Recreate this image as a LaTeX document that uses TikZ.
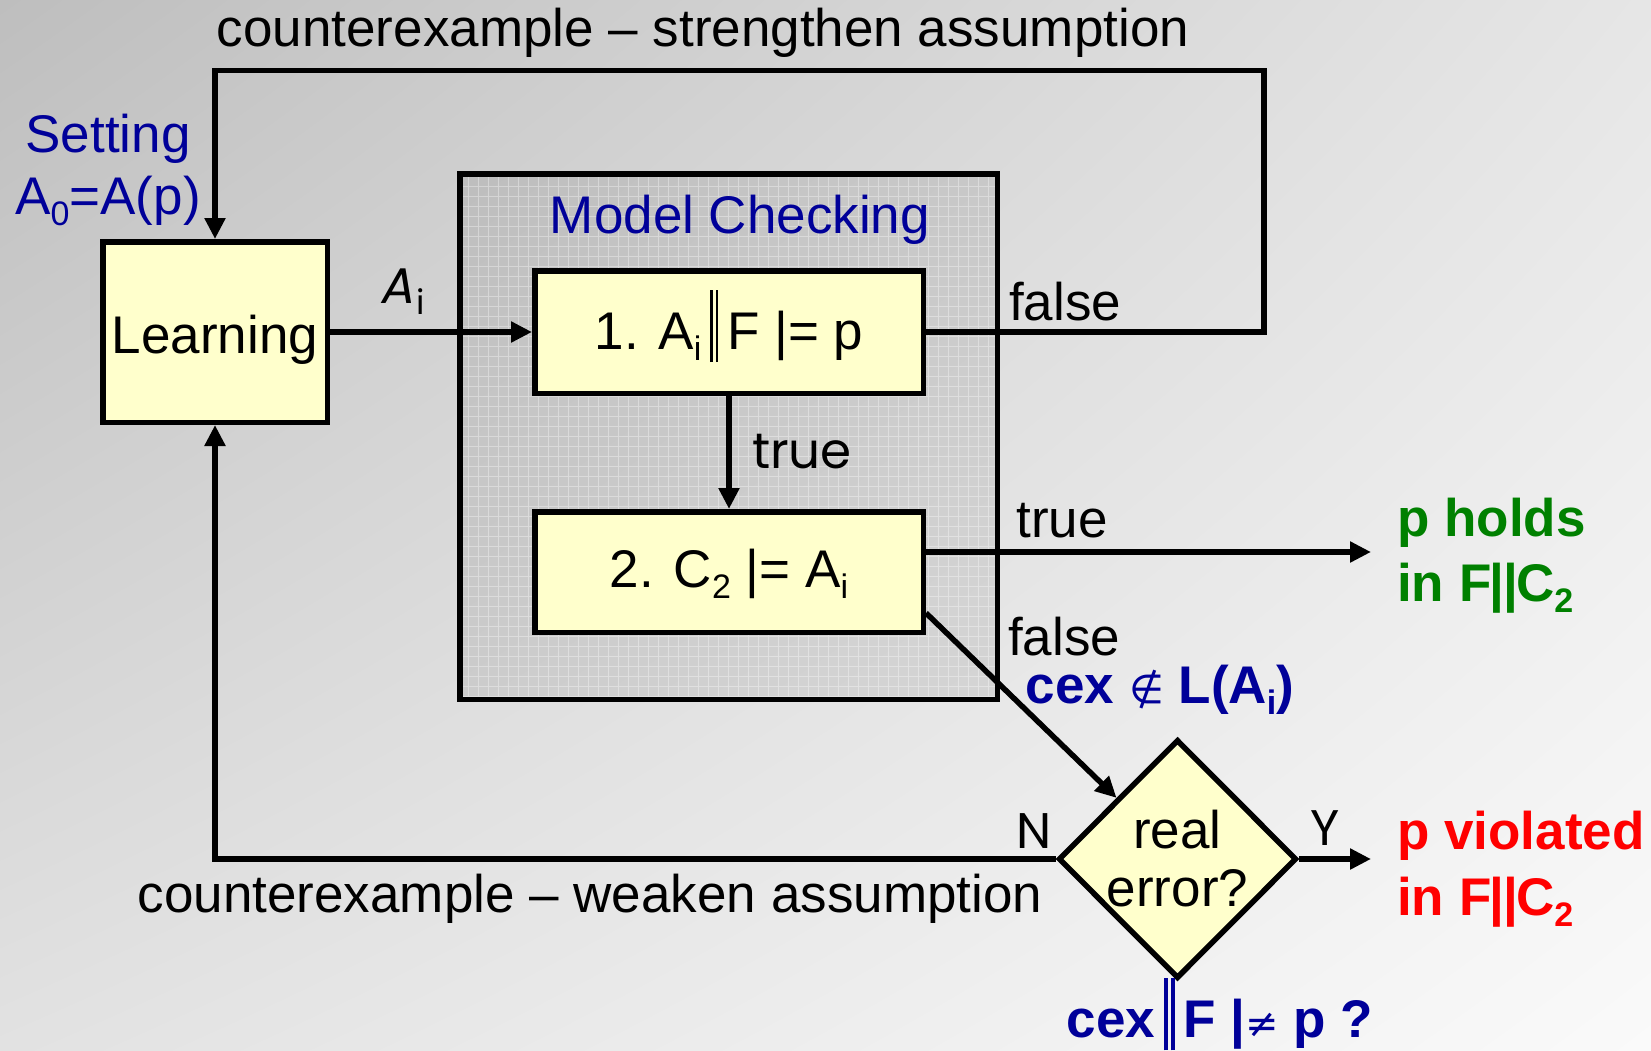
\documentclass[tikz,border=0pt]{standalone}
\usepackage{fontspec}
\setmainfont{Liberation Sans}
\newfontfamily\symfont{DejaVu Sans}
\newfontfamily\handfont{Poppins}
\newfontfamily\handslant[FakeSlant=0.2]{Poppins}
\usetikzlibrary{arrows.meta,shapes.geometric,shadings}

\definecolor{yel}{HTML}{FFFFCC}
\definecolor{dkblue}{RGB}{0,0,153}
\definecolor{okgreen}{RGB}{0,128,0}
\definecolor{errred}{RGB}{255,0,0}
\definecolor{bgtl}{HTML}{BEBEBE}
\definecolor{bgtr}{HTML}{E6E6E6}
\definecolor{bgbl}{HTML}{E2E2E2}
\definecolor{bgbr}{HTML}{FAFAFA}

% text sizes
\newcommand\txt{\fontsize{53pt}{58pt}\selectfont}
\newcommand\lsub[1]{\raisebox{-11pt}{\fontsize{34pt}{34pt}\selectfont #1}}
\newcommand\pbar[1]{\smash{\rule[-13pt]{#1}{72pt}\kern3pt\rule[-13pt]{#1}{72pt}}}
\newcommand\symtxt[1]{{\symfont\mdseries\fontsize{40pt}{40pt}\selectfont #1}}
\newcommand\parl{\kern-2pt|\kern-1pt|\kern-2pt}

\begin{document}
\begin{tikzpicture}[x=1pt,y=-1pt,
  box/.style={draw, line width=5.5pt, fill=yel, inner sep=0pt, font=\txt},
  arr/.style={line width=5.5pt, -{Triangle[length=21pt,width=20pt]}},
  lbl/.style={font=\txt, inner sep=0pt},
  hand/.style={font=\handfont\fontsize{50pt}{54pt}\selectfont, inner sep=0pt},
  note/.style={font=\txt\bfseries, inner sep=0pt, anchor=west}]

% background
\shade[upper left=bgtl, upper right=bgtr, lower left=bgbl, lower right=bgbr]
  (0,0) rectangle (1651,1050);
\useasboundingbox (0,0) rectangle (1651,1050);

% model checking frame with its fine grid
\node[draw, line width=5.5pt, fill=black, fill opacity=0.08,
      minimum width=537.5pt, minimum height=525.5pt, inner sep=0pt,
      path picture={\draw[white, draw opacity=0.35, line width=0.8pt]
        (path picture bounding box.south west) grid[step=10pt]
        (path picture bounding box.north east);}]
  (mc) at (728.5,436.5) {};
\node[lbl, text=dkblue] (mctitle) at (740,220) {Model Checking};

% boxes
\node[box, minimum width=224.5pt, minimum height=180.5pt,
      text height=42pt, text depth=0pt] (learn) at (215,332) {Learning};
\node[box, minimum width=388.5pt, minimum height=122.5pt,
      text height=34pt, text depth=0pt] (b1) at (729,332)
  {1. A\lsub{i}\,\pbar{2.5pt}\,F |= p};
\node[box, minimum width=388.5pt, minimum height=120.5pt,
      text height=30pt, text depth=0pt] (b2) at (729,572)
  {2. C\lsub{2} |= A\lsub{i}};
\node[box, diamond, minimum width=236pt, minimum height=239pt, align=center]
  (dia) at (1177.5,859) {real\\error?};

% free ends and corners
\coordinate (tr) at (1264,70.5);
\coordinate (tl) at (215,70.5);
\coordinate (holdend) at (1371,552);
\coordinate (violend) at (1371,859);

% connectors
\draw[arr] (learn.east) -- (b1.west);
\draw[arr] (b1.south) -- (b2.north);
\draw[arr] (b1.east) -| (tr) -- (tl) -- (learn.north);
\draw[arr] ([yshift=20pt]b2.east) -- (holdend);
\draw[arr] ([yshift=-41pt]b2.east) -- (dia.north west);
\draw[arr] (dia.east) -- (violend);
\draw[arr] (dia.west) -| (learn.south);

% labels
\node[lbl] (topcex) at (703,33) {counterexample -- strengthen assumption};
\node[lbl] (botcex) at (590,899) {counterexample -- weaken assumption};
\node[lbl, text=dkblue] (set1) at (108,139) {Setting};
\node[lbl, text=dkblue] (set2) at (108,201) {A\lsub{0}=A(p)};
\node[hand] (ailbl) at (402,292) {{\handslant A}\kern3pt\lsub{i}};
\node[hand] (truemid) at (802,452) {true};
\node[lbl] (false1) at (1065,302) {false};
\node[lbl] (true2) at (1062,521) {true};
\node[lbl] (false2) at (1064,637) {false};
\node[lbl, font=\txt\bfseries, text=dkblue] (notin) at (1160,690)
  {cex \symtxt{∉} L(A\lsub{i})};
\node[hand] (nlbl) at (1034,831) {N};
\node[hand] (ylbl) at (1325,828) {Y};
\node[note, text=okgreen] (hold1) at (1397,523) {p holds};
\node[note, text=okgreen] (hold2) at (1397,588) {in F\parl C\lsub{2}};
\node[note, text=errred] (viol1) at (1397,836) {p violated};
\node[note, text=errred] (viol2) at (1397,902) {in F\parl C\lsub{2}};
\node[lbl, font=\txt\bfseries, text=dkblue] (realq) at (1220,1024)
  {cex\,\pbar{4pt}\,F |\symtxt{≠} p ?};
\end{tikzpicture}
\end{document}
